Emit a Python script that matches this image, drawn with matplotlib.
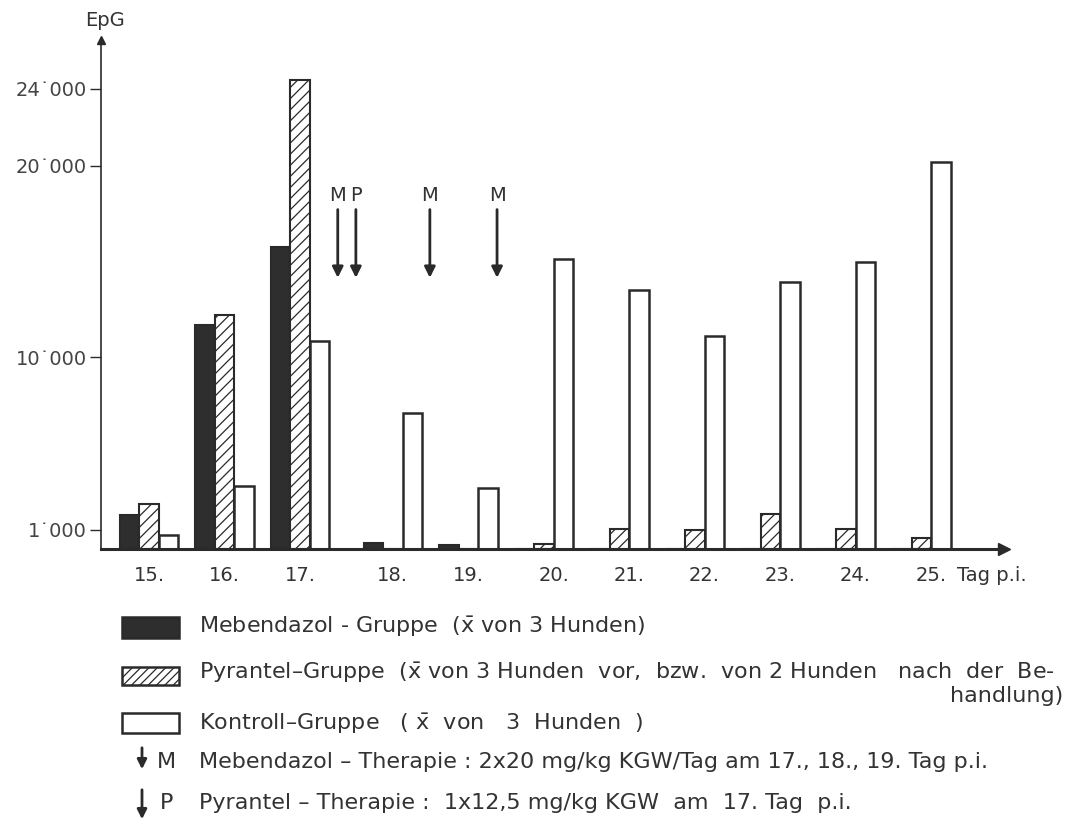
import matplotlib
matplotlib.use("Agg")
import matplotlib.pyplot as plt
from matplotlib.patches import Rectangle, FancyArrowPatch
import numpy as np

# EpG je Tag p.i. (Mittelwerte)
tage = ["15.", "16.", "17.", "18.", "19.", "20.", "21.", "22.", "23.", "24.", "25."]
mebendazol = [1790, 11700, 15730, 310, 220, 0, 0, 0, 0, 0, 0]
pyrantel = [2360, 12190, 24480, 0, 0, 280, 1040, 970, 1830, 1040, 570]
kontrolle = [750, 3300, 10830, 7090, 3180, 15130, 13490, 11130, 13910, 14950, 20170]

y_ticks = [1000, 10000, 20000, 24000]
y_tick_labels = ["1\u02d9000", "10\u02d9000", "20\u02d9000", "24\u02d9000"]

# Therapie-Pfeile: Buchstabe, Tag-Index
therapie = [("M", 2), ("P", 2), ("M", 3), ("M", 4)]
pfeil_offset = [0.50, 0.74, 0.49, 0.38]

xbar = r"$\bar{\mathrm{x}}$"
legend_texte = [
    "Mebendazol - Gruppe  (" + xbar + " von 3 Hunden)",
    "Pyrantel\u2013Gruppe  (" + xbar + " von 3 Hunden  vor,  bzw.  von 2 Hunden   nach  der  Be-",
    "Kontroll\u2013Gruppe   ( " + xbar + "  von   3  Hunden  )",
    "Mebendazol \u2013 Therapie : 2x20 mg/kg KGW/Tag am 17., 18., 19. Tag p.i.",
    "Pyrantel \u2013 Therapie :  1x12,5 mg/kg KGW  am  17. Tag  p.i.",
]

plt.rcParams['font.family'] = ['DejaVu Sans']
plt.rcParams['mathtext.fontset'] = 'dejavusans'
plt.rcParams['hatch.linewidth'] = 0.9

ink = "#2a2a2a"
txt = "#333333"
W, H = 1068, 825

fig = plt.figure(figsize=(W / 100, H / 100), dpi=100, facecolor="white")
ax = fig.add_axes([101 / W, 1 - 549 / H, 903 / W, 509 / H])
ax.set_facecolor("none")

n = len(tage)
idx = np.arange(n)
x = idx + np.where(idx >= 3, 0.23, 0.0)
w = 0.258

ax.bar(x - w, mebendazol, w, color="#2e2e2e", edgecolor=ink, linewidth=1.5)
ax.bar(x, pyrantel, w, color="white", edgecolor=ink, hatch="///", linewidth=1.5)
ax.bar(x + w, kontrolle, w, color="white", edgecolor=ink, linewidth=1.8)

ax.set_xlim(-0.636, 11.325)
ax.set_ylim(0, 26550)

# Tageslabel mittig unter den sichtbaren Balken
tick_pos = []
for i in range(n):
    pos = [p for p, v in zip([x[i] - w, x[i], x[i] + w],
                             [mebendazol[i], pyrantel[i], kontrolle[i]]) if v > 0]
    tick_pos.append(np.mean(pos))
ax.set_xticks(tick_pos)
ax.set_xticklabels(tage, fontsize=14, color=txt)
ax.tick_params(axis="x", length=0, pad=12)

ax.set_yticks(y_ticks)
ax.set_yticklabels(y_tick_labels, fontsize=14, color="#444444")
ax.tick_params(axis="y", direction="out", length=8, width=1.0, color=ink, pad=2)

for s in ["top", "right"]:
    ax.spines[s].set_visible(False)
ax.spines["left"].set_linewidth(1.2)
ax.spines["left"].set_color(ink)
ax.spines["bottom"].set_linewidth(2.2)
ax.spines["bottom"].set_color(ink)
ax.plot(1, 0, ">", color=ink, markersize=9, transform=ax.transAxes, clip_on=False)
ax.plot(0, 1, "^", color=ink, markersize=6, transform=ax.transAxes, clip_on=False)

fig.text(105 / W, 1 - 20 / H, "EpG", fontsize=14, color=txt, ha="center", va="center")
fig.text(957 / W, 1 - 566 / H, "Tag p.i.", fontsize=14, color=txt, ha="left", va="top")

# Therapie-Pfeile im Diagramm
for (buchstabe, tag), off in zip(therapie, pfeil_offset):
    px = x[tag] + off
    ax.annotate("", xy=(px, 14000), xytext=(px, 17850),
                arrowprops=dict(arrowstyle="-|>", color=ink, lw=2, mutation_scale=16))
    ax.text(px, 18150, buchstabe, fontsize=14, color=txt, ha="center", va="baseline")

# Legende unten
box_rows = [(617, 638), (667, 685), (713, 733)]
box_styles = [dict(facecolor="#2e2e2e", hatch=None),
              dict(facecolor="white", hatch="////"),
              dict(facecolor="white", hatch=None)]
for (y0, y1), st in zip(box_rows, box_styles):
    fig.patches.append(Rectangle((122 / W, 1 - y1 / H), 57 / W, (y1 - y0) / H,
                                 transform=fig.transFigure, edgecolor=ink, linewidth=1.8,
                                 **st))
text_baselines = [633, 679, 730, 768, 809]
for yb, t in zip(text_baselines, legend_texte):
    fig.text(199 / W, 1 - yb / H, t, fontsize=16, color=txt, ha="left", va="baseline")
fig.text(1063 / W, 1 - 702 / H, "handlung)", fontsize=16, color=txt, ha="right", va="baseline")

pfeil_rows = [(142, 745, 772, "M", 157, 768), (142, 787, 822, "P", 160, 809)]
for axp, y0, y1, b, bx, by in pfeil_rows:
    fig.add_artist(FancyArrowPatch(
        (axp / W, 1 - y0 / H), (axp / W, 1 - y1 / H), transform=fig.transFigure,
        arrowstyle="-|>", color=ink, lw=2, mutation_scale=14))
    fig.text(bx / W, 1 - by / H, b, fontsize=16, color=txt, ha="left", va="baseline")

fig.savefig("out.png", dpi=100, facecolor=fig.get_facecolor())
